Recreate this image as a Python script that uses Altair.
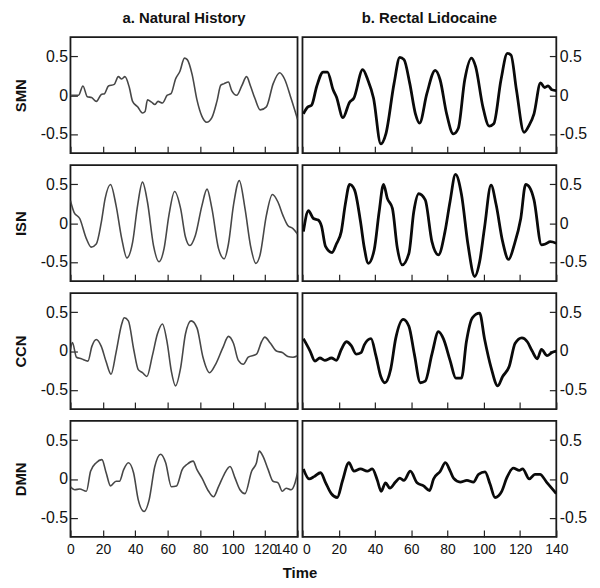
import altair as alt
import pandas as pd

# ---------------- data ----------------
x_ticks = [0, 20, 40, 60, 80, 100, 120, 140]
y_ticks = [-0.5, 0, 0.5]
rows = ["SMN", "ISN", "CCN", "DMN"]
col_titles = ["a. Natural History", "b. Rectal Lidocaine"]

smn_nh_t = [0, 2.6, 5, 7.7, 10.4, 13, 16, 19, 21, 23.4, 27, 29.5, 31.6, 33.6, 36.3, 38.3, 41.4, 44.4, 46, 47.5, 50, 52, 54, 56.7, 59.7, 62, 64.8, 67.5, 70.3, 72, 75, 78, 81, 84, 87.2, 90.3, 92.7, 94.8, 97.4, 99.4, 102.5, 105.6, 108.6, 111, 113.7, 117, 120.8, 125, 129, 132, 136, 140]
smn_nh_v = [0.0, 0.0, 0.0, 0.12, -0.02, -0.03, -0.08, 0.01, 0.02, 0.12, 0.14, 0.24, 0.21, 0.24, 0.1, -0.08, -0.15, -0.23, -0.21, -0.06, -0.09, -0.12, -0.08, -0.1, 0.0, 0.02, 0.21, 0.31, 0.48, 0.46, 0.27, -0.06, -0.27, -0.35, -0.29, -0.08, 0.13, 0.15, 0.17, 0.06, 0.0, 0.12, 0.24, 0.12, -0.04, -0.19, -0.15, 0.15, 0.29, 0.21, -0.04, -0.31]

smn_rl_t = [0.5, 3, 5, 7.8, 11.4, 13.8, 16.9, 18.7, 22.3, 26, 28.3, 33.2, 36, 39.2, 43.2, 46, 50.5, 53.7, 56, 59.2, 62.3, 64.6, 68.6, 73.2, 75.9, 79.5, 83.2, 85.9, 89.5, 93.2, 95.5, 99.5, 103, 105.5, 109.5, 113, 115, 118, 122.2, 125, 127.7, 131.3, 133.6, 135.5, 137.6, 140]
smn_rl_v = [-0.24, -0.15, -0.13, 0.11, 0.30, 0.30, 0.07, -0.02, -0.29, -0.09, -0.04, 0.33, 0.2, -0.04, -0.63, -0.5, 0.15, 0.49, 0.46, 0.15, -0.24, -0.36, 0.02, 0.32, 0.2, -0.24, -0.5, -0.43, 0.2, 0.48, 0.37, -0.15, -0.4, -0.37, 0.2, 0.54, 0.52, 0.07, -0.48, -0.39, -0.24, 0.16, 0.1, 0.12, 0.07, 0.06]

isn_nh_t = [0, 2.2, 5.7, 9.8, 12.8, 15.9, 19, 21.4, 24.7, 28.1, 31.6, 34.8, 38.3, 41.4, 44.4, 47.5, 51.2, 54.6, 57.7, 60.7, 64.2, 67.9, 70.9, 73.6, 77, 81.1, 84.2, 87.2, 91.3, 94.8, 97.4, 100.5, 104.1, 107.6, 111, 114.3, 116.8, 120.8, 124.5, 128, 131, 134, 137.2, 140]
isn_nh_v = [0.29, 0.14, 0.06, -0.2, -0.31, -0.27, 0.01, 0.32, 0.5, 0.23, -0.2, -0.45, -0.25, 0.23, 0.53, 0.27, -0.29, -0.5, -0.33, 0.1, 0.41, 0.19, -0.18, -0.29, -0.16, 0.23, 0.44, 0.19, -0.33, -0.46, -0.27, 0.23, 0.55, 0.19, -0.29, -0.52, -0.42, 0.1, 0.37, 0.27, 0.1, -0.03, -0.07, -0.14]

isn_rl_t = [0.5, 3.3, 6, 8.7, 10.5, 12.7, 16.3, 18.7, 21.4, 23.6, 26, 28.7, 32, 34.1, 36.3, 39.6, 42.3, 44.7, 46.8, 49.6, 52.3, 55, 58.7, 61.4, 64.1, 67.7, 71.4, 75, 78.6, 81.4, 84.4, 87.7, 91.3, 95, 97.7, 100.4, 104, 106.8, 110.4, 113.7, 116.8, 120.4, 123.1, 125.3, 127.7, 131.8, 134, 136.7, 140]
isn_rl_v = [-0.11, 0.16, 0.06, 0.04, -0.04, -0.3, -0.38, -0.27, -0.11, 0.24, 0.5, 0.43, 0.02, -0.32, -0.52, -0.34, 0.15, 0.5, 0.32, 0.19, -0.32, -0.54, -0.39, 0.15, 0.38, 0.3, -0.24, -0.41, -0.11, 0.28, 0.63, 0.37, -0.28, -0.69, -0.5, -0.06, 0.49, 0.24, -0.24, -0.47, -0.28, 0.06, 0.5, 0.46, 0.3, -0.28, -0.27, -0.24, -0.26]

ccn_nh_t = [0, 1.2, 3.7, 6.7, 10.8, 13.2, 15.9, 19, 22, 25, 28.1, 31.6, 33.2, 35.7, 39, 41.8, 44.4, 47.1, 50.5, 53.6, 56.7, 59.7, 62.2, 64.8, 67.9, 70.9, 74.4, 78, 81.7, 85.8, 89.3, 93.9, 97.4, 100.5, 103.5, 106.6, 109.6, 114.7, 117.8, 119.8, 123.3, 127, 130.6, 134, 137.2, 140]
ccn_nh_v = [0.02, 0.11, -0.08, -0.1, -0.13, 0.06, 0.15, 0.06, -0.14, -0.3, -0.02, 0.35, 0.43, 0.39, 0.02, -0.24, -0.28, -0.33, -0.06, 0.22, 0.35, 0.1, -0.26, -0.45, -0.22, 0.22, 0.39, 0.3, -0.08, -0.28, -0.18, 0.04, 0.19, 0.1, -0.12, -0.17, -0.08, -0.04, 0.12, 0.18, 0.1, 0.0, -0.02, -0.07, -0.08, -0.06]

ccn_rl_t = [0.5, 4.2, 6.9, 9.6, 12.3, 16, 18.7, 21.4, 24.2, 26.9, 29.6, 32.3, 34.1, 37.8, 40.5, 43.2, 45.4, 48.7, 51.4, 55.6, 58.7, 61.7, 65, 67.7, 71.4, 75, 77.7, 81.4, 84.6, 87.7, 90.4, 93.7, 97.7, 100.4, 104, 107.7, 110.4, 114, 117.3, 121, 124, 126.7, 129.5, 131.8, 134.9, 137.6, 140]
ccn_rl_v = [0.16, 0.0, -0.13, -0.09, -0.12, -0.09, -0.12, 0.02, 0.12, 0.07, -0.04, -0.02, 0.08, 0.16, -0.06, -0.33, -0.41, -0.23, 0.16, 0.41, 0.32, -0.04, -0.41, -0.39, -0.04, 0.25, 0.16, -0.12, -0.35, -0.35, 0.12, 0.43, 0.49, 0.16, -0.21, -0.45, -0.33, -0.2, 0.1, 0.17, 0.12, 0.0, -0.1, 0.02, -0.06, -0.02, 0.0]

dmn_nh_t = [0, 2.6, 5.7, 9.8, 12.4, 15.9, 19.4, 22, 24.7, 28.1, 30.2, 32.8, 35.7, 38.9, 41.8, 45.4, 48.5, 52, 55.6, 58.7, 62.2, 65.4, 68.9, 72, 75.6, 78, 81.1, 85.2, 88.2, 91.3, 94.8, 98.4, 101.5, 104.5, 107.6, 111.7, 114.7, 116.4, 118.8, 121.9, 124.9, 128, 130.6, 133, 136.1, 138.2, 140]
dmn_nh_v = [-0.1, -0.14, -0.13, -0.16, 0.1, 0.21, 0.25, 0.08, -0.09, -0.03, -0.03, 0.12, 0.21, 0.08, -0.27, -0.42, -0.27, 0.16, 0.32, 0.21, -0.1, -0.09, 0.12, 0.19, 0.23, 0.12, 0.01, -0.16, -0.23, -0.1, 0.06, 0.16, 0.01, -0.14, -0.19, 0.1, 0.21, 0.36, 0.29, 0.12, -0.03, -0.05, -0.16, -0.12, -0.14, -0.07, 0.08]

dmn_rl_t = [0.5, 3.7, 6.4, 10, 12.8, 15.9, 19.2, 22, 25.6, 28.4, 32, 35.7, 38.5, 41.2, 43.4, 45.8, 48.2, 51.3, 53.7, 55.9, 59.5, 63.2, 66.8, 70.1, 72.3, 76, 78.8, 81.5, 83.3, 87, 90.7, 94.3, 97.1, 100.7, 103.5, 106.2, 109.9, 112.6, 116.3, 119.6, 121.4, 125.1, 128.2, 131, 134.6, 140]
dmn_rl_v = [0.13, 0.0, 0.03, 0.08, -0.05, -0.19, -0.24, -0.03, 0.21, 0.1, 0.13, 0.1, 0.13, -0.01, -0.16, -0.05, -0.12, -0.04, 0.01, -0.02, 0.1, -0.05, -0.09, -0.15, 0.0, 0.1, 0.21, 0.1, 0.01, -0.04, -0.02, -0.04, 0.06, 0.09, -0.07, -0.24, -0.16, 0.01, 0.14, 0.11, 0.13, 0.0, 0.06, 0.06, -0.04, -0.19]

series = {
    ("SMN", 0): (smn_nh_t, smn_nh_v), ("SMN", 1): (smn_rl_t, smn_rl_v),
    ("ISN", 0): (isn_nh_t, isn_nh_v), ("ISN", 1): (isn_rl_t, isn_rl_v),
    ("CCN", 0): (ccn_nh_t, ccn_nh_v), ("CCN", 1): (ccn_rl_t, ccn_rl_v),
    ("DMN", 0): (dmn_nh_t, dmn_nh_v), ("DMN", 1): (dmn_rl_t, dmn_rl_v),
}

FONT = "Liberation Sans"
label_expr = "datum.value == 0 ? '0' : (datum.value < 0 ? '-' : '') + format(abs(datum.value), '.1f')"


def panel(row, col, is_top, is_bottom):
    t, v = series[(row, col)]
    df = pd.DataFrame({"t": t, "v": v})
    left = col == 0
    if left:
        x_align = alt.condition("datum.value == 140", alt.value("right"), alt.value("center"))
    else:
        x_align = alt.condition("datum.value == 0", alt.value("left"), alt.value("center"))
    x_axis = alt.Axis(
        values=x_ticks, labels=is_bottom, ticks=True, tickSize=7, offset=-7,
        domain=False, grid=False, title=None, labelFontSize=14, labelFont=FONT,
        labelColor="#111", labelPadding=6, tickColor="#222", tickWidth=1.2,
        labelFlush=False, labelOverlap=False, labelAlign=x_align,
    )
    y_axis = alt.Axis(
        orient="left" if left else "right", values=y_ticks, labelExpr=label_expr,
        ticks=True, tickSize=7, offset=-7, domain=False, grid=False,
        title=row if left else None, titleFontSize=15, titleFontWeight="bold",
        titleFont=FONT, titlePadding=12, titleColor="#111",
        labelFontSize=16, labelFont=FONT, labelColor="#111", labelPadding=3,
        tickColor="#222", tickWidth=1.2,
    )
    ch = alt.Chart(df).mark_line(
        color="#474747" if left else "#0a0a0a",
        strokeWidth=1.6 if left else 2.8,
        interpolate="monotone",
        clip=True,
    ).encode(
        x=alt.X("t:Q", scale=alt.Scale(domain=[0, 140], nice=False, zero=False), axis=x_axis),
        y=alt.Y("v:Q", scale=alt.Scale(domain=[-0.75, 0.75], nice=False), axis=y_axis),
    ).properties(width=229 if left else 256, height=117)
    if is_top:
        ch = ch.properties(title=alt.TitleParams(
            col_titles[col], fontSize=15, fontWeight="bold", font=FONT,
            anchor="middle", offset=11, color="#111"))
    return ch


row_charts = []
for i, r in enumerate(rows):
    row_charts.append(
        alt.hconcat(
            panel(r, 0, i == 0, i == len(rows) - 1),
            panel(r, 1, i == 0, i == len(rows) - 1),
            spacing=5, bounds="flush",
        )
    )

chart = alt.vconcat(*row_charts, spacing=9).properties(
    title=alt.TitleParams("Time", orient="bottom", anchor="middle", fontSize=15,
                          fontWeight="bold", font=FONT, offset=9, color="#111"),
    padding={"left": 4, "top": 0, "right": 4, "bottom": 1},
).configure_view(
    stroke="#1a1a1a", strokeWidth=1.8
)

chart.save("out.html", embed_options={"renderer": "svg", "actions": False})
